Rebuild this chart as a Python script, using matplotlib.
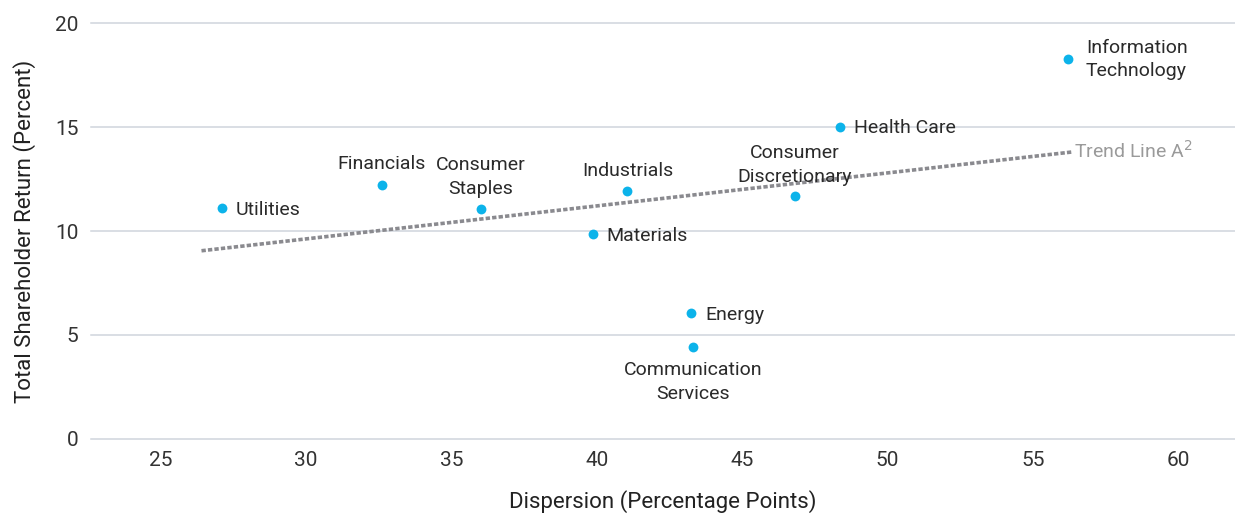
import matplotlib
matplotlib.use("Agg")
import matplotlib.pyplot as plt

sectors = ["Utilities", "Financials", "Consumer\nStaples", "Materials", "Industrials",
           "Energy", "Communication\nServices", "Consumer\nDiscretionary", "Health Care",
           "Information\nTechnology"]
dispersion = [27.1, 32.6, 36.0, 39.85, 41.05, 43.25, 43.3, 46.8, 48.35, 56.2]
tsr = [11.1, 12.2, 11.05, 9.85, 11.9, 6.05, 4.4, 11.7, 15.0, 18.25]
trend_x = [26.4, 56.35]
trend_y = [9.05, 13.8]
xticks = [25, 30, 35, 40, 45, 50, 55, 60]
yticks = [0, 5, 10, 15, 20]

# label placement: (dx, dy in points, ha, va)
placement = {
    "Utilities": (10, -1, "left", "center"),
    "Financials": (0, 9, "center", "bottom"),
    "Consumer\nStaples": (0, 8, "center", "bottom"),
    "Materials": (10, -1, "left", "center"),
    "Industrials": (0, 8, "center", "bottom"),
    "Energy": (10, -1, "left", "center"),
    "Communication\nServices": (0, -10, "center", "top"),
    "Consumer\nDiscretionary": (0, 7, "center", "bottom"),
    "Health Care": (10, -1, "left", "center"),
    "Information\nTechnology": (13, 0, "left", "center"),
}

plt.rcParams['font.family'] = ['Roboto', 'DejaVu Sans']

fig = plt.figure(figsize=(12.35, 5.15), dpi=100)
ax = fig.add_axes([0.0737, 0.1476, 0.9263, 0.8077])

ax.set_xlim(22.6, 61.95)
ax.set_ylim(0, 20)
ax.set_xticks(xticks)
ax.set_yticks(yticks)
ax.grid(axis="y", color="#d0d5dc", lw=1.1)
for gl in ax.get_ygridlines():
    gl.set_clip_on(False)
ax.set_axisbelow(True)
for s in ax.spines.values():
    s.set_visible(False)
ax.tick_params(length=0, labelsize=15, colors="#333333")
ax.tick_params(axis="y", pad=9)
ax.tick_params(axis="x", pad=9)

ax.plot(trend_x, trend_y, linestyle=(0, (1.2, 0.6)), color="#8a8a8f", lw=2.6, zorder=2)
ax.text(trend_x[1] + 0.05, trend_y[1] + 0.05, "Trend Line A$^{2}$", color="#9a9a9a",
        fontsize=14, ha="left", va="center")

ax.scatter(dispersion, tsr, s=50, color="#0cb3ea", zorder=3, linewidths=0)
for x, y, name in zip(dispersion, tsr, sectors):
    dx, dy, ha, va = placement[name]
    ax.annotate(name, (x, y), xytext=(dx, dy), textcoords="offset points",
                ha=ha, va=va, multialignment="center" if ha == "center" else "left",
                fontsize=14, color="#2a2a2a", linespacing=1.4)

ax.set_xlabel("Dispersion (Percentage Points)", fontsize=16, color="#222222", labelpad=14)
ax.set_ylabel("Total Shareholder Return (Percent)", fontsize=16, color="#222222", labelpad=14)

fig.savefig("out.png", dpi=100)
